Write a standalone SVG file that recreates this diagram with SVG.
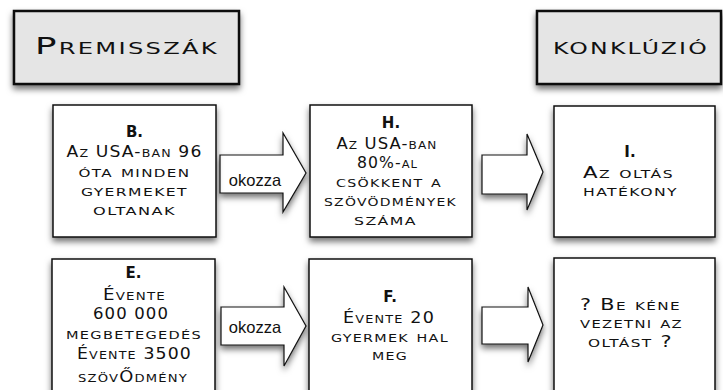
<svg xmlns="http://www.w3.org/2000/svg" width="723" height="390" viewBox="0 0 723 390">
<style>
.hdr{fill:#e5e5e5;stroke:#111;stroke-width:2.5}
.box{fill:#fff;stroke:#111;stroke-width:1.5}
.arr{fill:#fff;stroke:#111;stroke-width:1.2;stroke-linejoin:miter}
text{font-family:"DejaVu Sans","Liberation Sans",sans-serif;font-variant:small-caps;fill:#111;text-anchor:middle}
.t{font-size:23.5px;letter-spacing:1.5px}
.b{font-size:15px;letter-spacing:1px}
.h{font-size:15px;font-weight:bold}
.ok{font-family:"Liberation Sans",Arial,sans-serif;font-variant:normal;font-size:16.5px}
</style>
<defs>
<filter id="sh" x="-20%" y="-20%" width="140%" height="150%">
<feDropShadow dx="0" dy="4" stdDeviation="3" flood-color="#000" flood-opacity="0.55"/>
</filter>
</defs>
<rect width="723" height="390" fill="#fff"/>
<g id="premisszak">
<rect class="hdr" x="14" y="11" width="225" height="73" filter="url(#sh)"/>
<text class="t" x="127" y="54" textLength="184" lengthAdjust="spacingAndGlyphs">Premisszák</text>
</g>
<g id="konkluzio">
<rect class="hdr" x="537" y="11" width="184" height="73" filter="url(#sh)"/>
<text class="t" x="631" y="54" textLength="156" lengthAdjust="spacingAndGlyphs">konklúzió</text>
</g>
<g id="connectors">
<polygon class="arr" filter="url(#sh)" points="220,155 283,155 283,133 306,173 283,212 283,193 220,193"/>
<text class="ok" x="255" y="186">okozza</text>
<polygon class="arr" filter="url(#sh)" points="482,155 527,155 527,134 543,172 527,210 527,194 482,194"/>
<polygon class="arr" filter="url(#sh)" points="221,307 284,307 284,287 306,326 284,366 284,345 221,345"/>
<text class="ok" x="255" y="333">okozza</text>
<polygon class="arr" filter="url(#sh)" points="482,307 528,307 528,287 543,325 528,362 528,344 482,344"/>
</g>
<g id="B">
<rect class="box" x="53" y="105" width="163" height="132" filter="url(#sh)"/>
<text class="h" x="134.5" y="137">B.</text>
<text class="b" x="134.5" y="157" textLength="136" lengthAdjust="spacingAndGlyphs">Az USA-ban 96</text>
<text class="b" x="134.5" y="177" textLength="112" lengthAdjust="spacingAndGlyphs">óta minden</text>
<text class="b" x="134.5" y="196" textLength="107" lengthAdjust="spacingAndGlyphs">gyermeket</text>
<text class="b" x="134.5" y="215" textLength="83" lengthAdjust="spacingAndGlyphs">oltanak</text>
</g>
<g id="H">
<rect class="box" x="310" y="105" width="162" height="132" filter="url(#sh)"/>
<text class="h" x="391" y="128">H.</text>
<text class="b" x="387" y="149" textLength="101" lengthAdjust="spacingAndGlyphs">Az USA-ban</text>
<text class="b" x="387.5" y="168" textLength="61" lengthAdjust="spacingAndGlyphs">80%-al</text>
<text class="b" x="389" y="187" textLength="106" lengthAdjust="spacingAndGlyphs">csökkent a</text>
<text class="b" x="390.5" y="206" textLength="133" lengthAdjust="spacingAndGlyphs">szövödmények</text>
<text class="b" x="385.5" y="225" textLength="63" lengthAdjust="spacingAndGlyphs">száma</text>
</g>
<g id="I">
<rect class="box" x="554" y="106" width="161" height="131" filter="url(#sh)"/>
<text class="h" x="630" y="157">I.</text>
<text class="b" x="628.5" y="178" textLength="91" lengthAdjust="spacingAndGlyphs">Az oltás</text>
<text class="b" x="630.5" y="196" textLength="95" lengthAdjust="spacingAndGlyphs">hatékony</text>
</g>
<g id="E">
<rect class="box" x="52" y="259" width="163" height="145" filter="url(#sh)"/>
<text class="h" x="133.5" y="278">E.</text>
<text class="b" x="134.5" y="300" textLength="63" lengthAdjust="spacingAndGlyphs">Évente</text>
<text class="b" x="131" y="319" textLength="76" lengthAdjust="spacingAndGlyphs">600 000</text>
<text class="b" x="134" y="339" textLength="136" lengthAdjust="spacingAndGlyphs">megbetegedés</text>
<text class="b" x="134.5" y="359" textLength="115" lengthAdjust="spacingAndGlyphs">Évente 3500</text>
<text class="b" x="133" y="382" textLength="110" lengthAdjust="spacingAndGlyphs">szövŐdmény</text>
</g>
<g id="F">
<rect class="box" x="309" y="259" width="163" height="145" filter="url(#sh)"/>
<text class="h" x="390" y="302">F.</text>
<text class="b" x="389" y="323" textLength="92" lengthAdjust="spacingAndGlyphs">Évente 20</text>
<text class="b" x="390" y="342" textLength="118" lengthAdjust="spacingAndGlyphs">gyermek hal</text>
<text class="b" x="390" y="360" textLength="36" lengthAdjust="spacingAndGlyphs">meg</text>
</g>
<g id="Q">
<rect class="box" x="554" y="258" width="161" height="145" filter="url(#sh)"/>
<text class="b" x="630.5" y="310" textLength="101" lengthAdjust="spacingAndGlyphs">? Be kéne</text>
<text class="b" x="631.5" y="328" textLength="103" lengthAdjust="spacingAndGlyphs">vezetni az</text>
<text class="b" x="630.5" y="347" textLength="85" lengthAdjust="spacingAndGlyphs">oltást ?</text>
</g>
</svg>
